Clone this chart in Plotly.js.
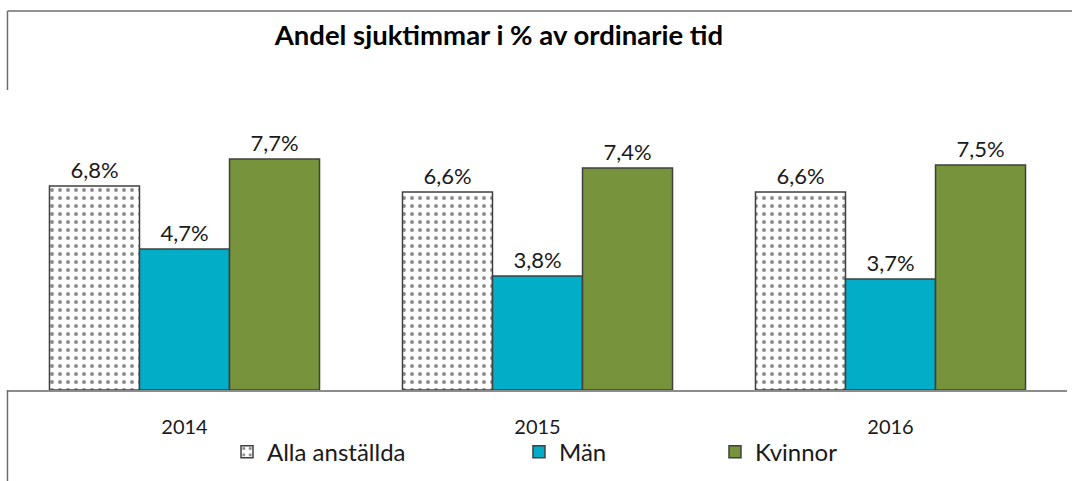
<!DOCTYPE html>
<html>
<head>
<meta charset="utf-8">
<script src="https://cdn.plot.ly/plotly-3.0.1.min.js"></script>
<style>html,body{margin:0;padding:0;background:#fff;}#chart{width:1072px;height:481px;}</style>
</head>
<body>
<div id="chart"></div>
<script>
const years = ['2014', '2015', '2016'];
const seriesNames = ['Alla anställda', 'Män', 'Kvinnor'];
const allaValues = [6.8, 6.6, 6.6];
const manValues = [4.7, 3.8, 3.7];
const kvinnorValues = [7.7, 7.4, 7.5];
const chartTitle = 'Andel sjuktimmar i % av ordinarie tid';

const fmt = v => v.toFixed(1).replace('.', ',') + '%';
const FONT = 'Lato, "Open Sans", sans-serif';
const lineCol = '#404040';

function barTrace(name, vals, marker, legendId) {
  return {
    type: 'bar', name: name, x: years, y: vals,
    text: vals.map(fmt), textposition: 'outside', cliponaxis: false,
    textfont: {family: FONT, size: 22, color: '#1a1a1a'},
    marker: marker, legend: legendId, hoverinfo: 'skip'
  };
}

const traces = [
  barTrace(seriesNames[0], allaValues, {color: '#ffffff', line: {color: lineCol, width: 1.5},
    pattern: {shape: '.', fgcolor: '#8a8a8a', bgcolor: '#ffffff', size: 8, solidity: 0.18}}, 'legend'),
  barTrace(seriesNames[1], manValues, {color: '#02AEC7', line: {color: lineCol, width: 1.5}}, 'legend2'),
  barTrace(seriesNames[2], kvinnorValues, {color: '#77933C', line: {color: lineCol, width: 1.5}}, 'legend3')
];

const legendBase = {orientation: 'h', yanchor: 'middle', xanchor: 'left', y: -0.207,
  font: {family: FONT, size: 24, color: '#1a1a1a'}, bgcolor: 'rgba(0,0,0,0)'};

const layout = {
  width: 1072, height: 481,
  margin: {l: 8, r: 5, t: 90, b: 91},
  paper_bgcolor: '#ffffff', plot_bgcolor: '#ffffff',
  title: {text: '<b>' + chartTitle + '</b>', x: 0.4636, xanchor: 'center', xref: 'paper', y: 0.927, yanchor: 'middle',
    font: {family: FONT, size: 27.5, color: '#000000'}},
  barmode: 'group', bargap: 0.235, bargroupgap: 0,
  xaxis: {showline: true, linecolor: '#8c8c8c', linewidth: 1.5, ticks: '', ticklabelstandoff: 18,
    tickfont: {family: FONT, size: 20, color: '#1a1a1a'}, showgrid: false, zeroline: false, fixedrange: true},
  yaxis: {range: [0, 10], visible: false, showgrid: false, zeroline: false, fixedrange: true},
  showlegend: true,
  legend: Object.assign({}, legendBase, {x: 0.2068}),
  legend2: Object.assign({}, legendBase, {x: 0.4825}),
  legend3: Object.assign({}, legendBase, {x: 0.6676}),
  shapes: [
    {type: 'line', xref: 'paper', yref: 'paper', x0: -0.0005, x1: 1.01, y0: 1.2633, y1: 1.2633, line: {color: '#6e6e6e', width: 1.5}},
    {type: 'line', xref: 'paper', yref: 'paper', x0: -0.0005, x1: -0.0005, y0: 1.2633, y1: 1.0, line: {color: '#6e6e6e', width: 1.5}},
    {type: 'line', xref: 'paper', yref: 'paper', x0: -0.0005, x1: -0.0005, y0: 0, y1: -0.31, line: {color: '#6e6e6e', width: 1.5}}
  ]
};

Plotly.newPlot('chart', traces, layout, {displayModeBar: false, staticPlot: true});
</script>
</body>
</html>
